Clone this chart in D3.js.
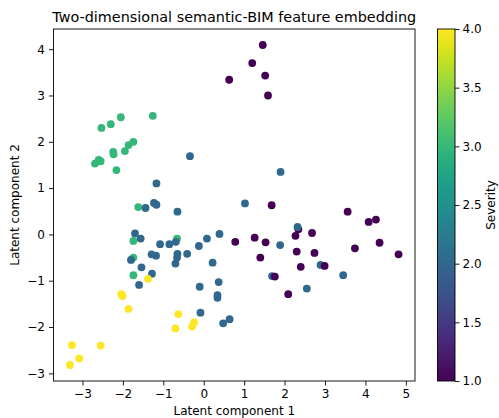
<!DOCTYPE html>
<html>
<head>
<meta charset="utf-8">
<script src="https://cdn.jsdelivr.net/npm/d3@7"></script>
<style>
  body { margin: 0; background: #fff; }
  svg text { font-family: "DejaVu Sans", sans-serif; fill: #000; }
</style>
</head>
<body>
<svg id="chart" width="499" height="418"></svg>
<script>
// point data (drawn in this order)
var latent1 = [
    1.69, 2.89, -1.70, -1.28,
    1.46, 1.20, 1.52, 0.63, 1.59, 0.78, 1.26, 1.53, 1.68, 1.40, 2.34, 2.27, 2.68,
    2.30, 2.74, 2.40, 2.99, 1.76, 2.09, 3.56, 4.08, 4.26, 4.35, 3.74, 4.82,
    -2.05, -1.26, -2.30, -2.53, -1.74, -1.86, -1.95, -2.24, -2.23, -2.69, -2.60,
    -2.55, -2.16, -1.62, -0.66, -1.74, -1.74, -1.74,
    -0.34, -1.17, -1.23, -1.17, -1.44, -0.65, -1.56, -0.69, -1.08, -0.85, -0.12,
    -1.29, -1.18, -0.65, -0.66, -0.41, -0.70, -1.80, -1.54, -1.60, -0.10, -0.08,
    0.37, 0.34, 0.34, 0.48, 0.64, 0.22, 1.90, 1.02, 2.32, 0.39, 0.08, 1.89,
    2.55, 3.45,
    -1.38, -2.04, -2.01, -1.86, -0.63, -0.24, -0.29, -0.70, -3.26, -2.55, -3.08, -3.31
];
var latent2 = [
    -0.90, -0.66, 0.02, -0.85,
    4.09, 3.70, 3.43, 3.34, 3.00, -0.16, -0.07, -0.17, 0.63, -0.50, 0.11, -0.03, 0.03,
    -0.37, -0.40, -0.70, -0.68, -0.91, -1.29, 0.49, 0.27, 0.32, -0.18, -0.30, -0.43,
    2.53, 2.56, 2.38, 2.30, 2.00, 1.93, 1.80, 1.78, 1.73, 1.53, 1.61,
    1.58, 1.39, 0.59, -0.09, -0.14, -0.50, -0.88,
    1.69, 1.10, 0.68, 0.64, 0.57, 0.49, -0.09, -0.16, -0.21, -0.21, -0.25,
    -0.43, -0.46, -0.42, -0.50, -0.42, -0.63, -0.55, -0.71, -1.09, -1.13, -1.69,
    -1.03, -1.31, -1.37, -1.92, -1.83, -0.61, 1.35, 0.67, 0.16, 0.01, -0.09, -0.23,
    -1.17, -0.88,
    -0.96, -1.29, -1.33, -1.61, -1.72, -1.90, -1.99, -2.03, -2.39, -2.40, -2.68, -2.82
];
var severity = [
    2, 2, 2, 2,
    1, 1, 1, 1, 1, 1, 1, 1, 1, 1, 1, 1, 1,
    1, 1, 1, 1, 1, 1, 1, 1, 1, 1, 1, 1,
    3, 3, 3, 3, 3, 3, 3, 3, 3, 3, 3,
    3, 3, 3, 3, 3, 3, 3,
    2, 2, 2, 2, 2, 2, 2, 2, 2, 2, 2,
    2, 2, 2, 2, 2, 2, 2, 2, 2, 2, 2,
    2, 2, 2, 2, 2, 2, 2, 2, 2, 2, 2, 2,
    2, 2,
    4, 4, 4, 4, 4, 4, 4, 4, 4, 4, 4, 4
];
var xTicks = [-3, -2, -1, 0, 1, 2, 3, 4, 5];
var yTicks = [-3, -2, -1, 0, 1, 2, 3, 4];
var cbTicks = [1.0, 1.5, 2.0, 2.5, 3.0, 3.5, 4.0];

var svg = d3.select('#chart');

var plot = { left: 53.5, right: 415, top: 29, bottom: 381 };
var cb = { left: 437.5, right: 455, top: 29, bottom: 381 };

// matplotlib style 5% margins around the data
var xExt = d3.extent(latent1), yExt = d3.extent(latent2);
var xPad = (xExt[1] - xExt[0]) * 0.05, yPad = (yExt[1] - yExt[0]) * 0.05;

var x = d3.scaleLinear()
    .domain([xExt[0] - xPad, xExt[1] + xPad])
    .range([plot.left, plot.right]);
var y = d3.scaleLinear()
    .domain([yExt[0] - yPad, yExt[1] + yPad])
    .range([plot.bottom, plot.top]);
var color = d3.scaleSequential(d3.interpolateViridis).domain([1, 4]);

// points
var pts = latent1.map(function(v, i) {
    return { x: v, y: latent2[i], s: severity[i] };
});
svg.append('g').selectAll('circle')
    .data(pts)
    .enter().append('circle')
    .attr('cx', function(d) { return x(d.x); })
    .attr('cy', function(d) { return y(d.y); })
    .attr('r', 3.9)
    .attr('fill', function(d) { return color(d.s); });

// axes
function minus(d) { return d < 0 ? '\u2212' + (-d) : d; }
function styleAxis(g) {
    g.select('.domain').remove();
    g.selectAll('.tick line').attr('stroke', '#000').attr('stroke-width', 0.9);
    g.selectAll('.tick text').attr('font-size', '12px').attr('fill', '#000');
}
svg.append('g')
    .attr('transform', 'translate(0,' + plot.bottom + ')')
    .call(d3.axisBottom(x).tickValues(xTicks).tickSize(4.5).tickPadding(3.5)
        .tickFormat(minus))
    .call(styleAxis);
svg.append('g')
    .attr('transform', 'translate(' + plot.left + ',0)')
    .call(d3.axisLeft(y).tickValues(yTicks).tickSize(4.5).tickPadding(4)
        .tickFormat(minus))
    .call(styleAxis);

svg.append('rect')
    .attr('x', plot.left).attr('y', plot.top)
    .attr('width', plot.right - plot.left).attr('height', plot.bottom - plot.top)
    .attr('fill', 'none').attr('stroke', '#000').attr('stroke-width', 0.9);

// labels
svg.append('text')
    .attr('x', (plot.left + plot.right) / 2).attr('y', 22)
    .attr('text-anchor', 'middle').attr('font-size', '14.4px')
    .text('Two-dimensional semantic-BIM feature embedding');
svg.append('text')
    .attr('x', (plot.left + plot.right) / 2).attr('y', 415)
    .attr('text-anchor', 'middle').attr('font-size', '12px')
    .text('Latent component 1');
svg.append('text')
    .attr('transform', 'translate(19,' + (plot.top + plot.bottom) / 2 + ') rotate(-90)')
    .attr('text-anchor', 'middle').attr('font-size', '12px')
    .text('Latent component 2');

// colorbar
var defs = svg.append('defs');
var grad = defs.append('linearGradient')
    .attr('id', 'viridis').attr('x1', 0).attr('y1', 1).attr('x2', 0).attr('y2', 0);
d3.range(0, 1.0001, 0.05).forEach(function(t) {
    grad.append('stop')
        .attr('offset', t)
        .attr('stop-color', d3.interpolateViridis(t));
});
svg.append('rect')
    .attr('x', cb.left).attr('y', cb.top)
    .attr('width', cb.right - cb.left).attr('height', cb.bottom - cb.top)
    .attr('fill', 'url(#viridis)')
    .attr('stroke', '#000').attr('stroke-width', 0.9);

var cbScale = d3.scaleLinear().domain([1, 4]).range([cb.bottom, cb.top]);
svg.append('g')
    .attr('transform', 'translate(' + cb.right + ',0)')
    .call(d3.axisRight(cbScale).tickValues(cbTicks).tickSize(4.5).tickPadding(3)
        .tickFormat(d3.format('.1f')))
    .call(styleAxis);

svg.append('text')
    .attr('transform', 'translate(491,' + (cb.top + cb.bottom) / 2 + ') rotate(-90)')
    .attr('text-anchor', 'middle').attr('dy', '0.35em').attr('font-size', '12px')
    .text('Severity');
</script>
</body>
</html>
